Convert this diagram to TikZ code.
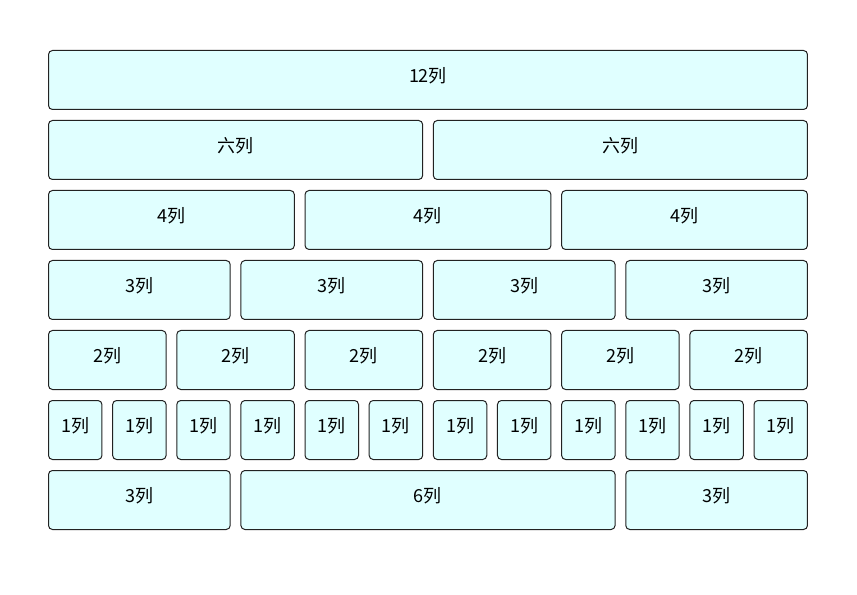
\documentclass[tikz,border=0pt]{standalone}
\usepackage{fontspec}
\setmainfont{Noto Sans CJK SC}
\definecolor{cellfill}{HTML}{E0FFFF}
\definecolor{celldraw}{HTML}{222222}
\tikzset{
  cell/.style={draw=celldraw, line width=0.75pt, fill=cellfill, rounded corners=3pt},
  celltext/.style={font=\fontsize{13.5pt}{15pt}\selectfont, inner sep=0pt, anchor=center}
}
\newcommand{\pitch}{64.14}
\newcommand{\gut}{10.7}
% \cellbox{name}{row}{startcol}{span}{text}
\newcommand{\cellbox}[5]{%
  \pgfmathsetmacro{\xl}{48.5+#3*\pitch}%
  \pgfmathsetmacro{\xr}{48.5+(#3+#4)*\pitch-\gut}%
  \pgfmathsetmacro{\yt}{50.5+70*#2}%
  \pgfmathsetmacro{\yb}{\yt+59}%
  \pgfmathsetmacro{\xm}{(\xl+\xr)/2}%
  \pgfmathsetmacro{\ym}{\yt+25}%
  \draw[cell] (\xl,\yt) rectangle (\xr,\yb);
  \node[celltext] (#1) at (\xm,\ym) {#5};
}
\begin{document}
\begin{tikzpicture}[x=0.75pt,y=-0.75pt]
\useasboundingbox[fill=white] (0,0) rectangle (857,595);
% row 0
\cellbox{r0a}{0}{0}{12}{12列}
% row 1
\cellbox{r1a}{1}{0}{6}{六列}
\cellbox{r1b}{1}{6}{6}{六列}
% row 2
\cellbox{r2a}{2}{0}{4}{4列}
\cellbox{r2b}{2}{4}{4}{4列}
\cellbox{r2c}{2}{8}{4}{4列}
% row 3
\cellbox{r3a}{3}{0}{3}{3列}
\cellbox{r3b}{3}{3}{3}{3列}
\cellbox{r3c}{3}{6}{3}{3列}
\cellbox{r3d}{3}{9}{3}{3列}
% row 4
\cellbox{r4a}{4}{0}{2}{2列}
\cellbox{r4b}{4}{2}{2}{2列}
\cellbox{r4c}{4}{4}{2}{2列}
\cellbox{r4d}{4}{6}{2}{2列}
\cellbox{r4e}{4}{8}{2}{2列}
\cellbox{r4f}{4}{10}{2}{2列}
% row 5
\cellbox{r5a}{5}{0}{1}{1列}
\cellbox{r5b}{5}{1}{1}{1列}
\cellbox{r5c}{5}{2}{1}{1列}
\cellbox{r5d}{5}{3}{1}{1列}
\cellbox{r5e}{5}{4}{1}{1列}
\cellbox{r5f}{5}{5}{1}{1列}
\cellbox{r5g}{5}{6}{1}{1列}
\cellbox{r5h}{5}{7}{1}{1列}
\cellbox{r5i}{5}{8}{1}{1列}
\cellbox{r5j}{5}{9}{1}{1列}
\cellbox{r5k}{5}{10}{1}{1列}
\cellbox{r5l}{5}{11}{1}{1列}
% row 6
\cellbox{r6a}{6}{0}{3}{3列}
\cellbox{r6b}{6}{3}{6}{6列}
\cellbox{r6c}{6}{9}{3}{3列}
\end{tikzpicture}
\end{document}
